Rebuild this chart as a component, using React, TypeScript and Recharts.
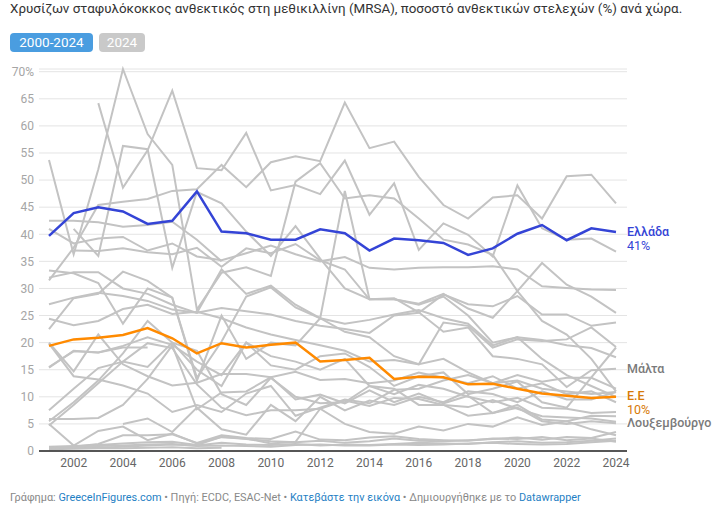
import React from "react";
import {
  LineChart,
  Line,
  XAxis,
  YAxis,
  CartesianGrid,
  LabelList,
} from "recharts";

const years = [
  2001, 2002, 2003, 2004, 2005, 2006, 2007, 2008, 2009, 2010, 2011, 2012,
  2013, 2014, 2015, 2016, 2017, 2018, 2019, 2020, 2021, 2022, 2023, 2024,
];
const xTicks = [2002, 2004, 2006, 2008, 2010, 2012, 2014, 2016, 2018, 2020, 2022, 2024];
const yTicks = [0, 5, 10, 15, 20, 25, 30, 35, 40, 45, 50, 55, 60, 65, 70];

const greece = [39.7, 43.9, 45.0, 44.2, 41.9, 42.5, 47.9, 40.5, 40.2, 39.0, 39.0, 40.9, 40.2, 37.0, 39.2, 38.9, 38.4, 36.2, 37.4, 40.1, 41.7, 38.9, 41.1, 40.4];
const eu = [19.4, 20.6, 20.9, 21.4, 22.7, 20.8, 18.0, 19.9, 19.1, 19.6, 20.0, 16.5, 16.8, 17.2, 13.3, 13.7, 13.6, 12.3, 12.4, 11.5, 10.6, 10.2, 9.8, 10.0];
const malta = [null, 41.0, 36.0, 56.3, 55.7, 33.8, 47.8, 45.7, 40.5, 36.0, 41.5, 35.5, 30.0, 28.0, 28.2, 25.6, 22.0, 22.8, 17.5, 17.0, 16.0, 11.8, 14.9, 15.2];
const luxembourg = [15.5, 18.4, 18.2, 19.4, 21.0, 19.6, 16.5, 14.0, 20.0, 17.5, 16.5, 15.0, 17.0, 12.0, 11.5, 8.5, 8.5, 6.5, 7.0, 8.0, 5.5, 5.0, 5.5, 5.1];

const romania = [31.5, 37.5, 45.4, 46.0, 46.5, 48.0, 48.3, 52.8, 48.7, 53.3, 54.4, 53.5, 64.3, 55.9, 57.1, 50.6, 45.4, 42.9, 46.8, 47.2, 42.9, 50.7, 51.0, 45.7];
const cyprus = [null, null, 64.2, 48.6, 55.5, 66.5, 52.2, 51.8, 58.7, 48.1, 49.1, 47.4, 53.6, 43.6, 49.4, 37.1, 42.0, 39.9, 35.9, 49.0, 41.1, 39.0, 39.2, 36.8];
const portugal = [53.7, 36.3, 52.0, 70.5, 58.5, 52.8, 26.1, 32.9, 33.9, 32.3, 49.7, 53.1, 46.6, 47.2, 46.6, 42.9, 39.0, 38.1, 36.2, 29.5, 24.0, 21.5, 17.0, 11.0];
const italy = [41.0, 38.3, 39.2, 39.5, 37.0, 38.3, 35.9, 35.2, 36.5, 37.9, 36.3, 35.0, 35.8, 33.8, 33.5, 33.8, 33.9, 33.9, 34.1, 33.5, 30.4, 30.1, 29.8, 29.7];
const ireland = [42.5, 42.5, 42.2, 41.4, 41.7, 42.3, 39.0, 35.0, null, null, null, null, null, null, null, null, null, null, null, null, null, null, null, null];
const spain = [null, 37.0, 36.9, 37.4, 36.7, 36.3, 37.5, 34.0, 37.4, 36.5, 38.2, 35.2, 33.5, 28.0, 28.0, 27.0, 28.5, 25.0, 20.0, 21.0, 20.5, 19.5, 19.0, 17.3];
const croatia = [32.0, 33.0, 33.0, 30.0, 29.0, 27.0, 25.5, 33.5, 29.0, 30.5, 27.0, 24.5, 48.0, 28.0, 28.0, 27.2, 29.0, 26.3, 24.6, 29.5, 34.7, 30.7, 28.5, 25.5];
const france = [33.3, 32.8, 31.0, 23.5, 30.0, 28.3, 13.0, 25.0, 17.0, 20.0, 19.5, 24.5, 22.0, 21.0, 17.5, 16.0, 17.0, 14.5, 12.5, 13.0, 11.5, 11.0, 10.5, 10.9];
const belgium = [27.1, 28.3, 29.2, 28.6, 27.7, 26.1, 25.5, 26.4, 25.8, 25.2, 24.0, 23.1, 22.5, 21.8, 25.0, 25.5, 28.9, 27.1, 26.7, 28.6, 25.2, 25.2, 23.1, 23.7];
const hungary = [24.4, 23.2, 24.0, 26.2, 27.0, 25.3, 25.7, 24.5, 22.8, 21.5, 20.5, 19.5, 18.5, 16.5, 16.8, 16.0, 23.7, 23.1, 19.1, 20.6, 20.3, 20.6, 22.8, 19.2];
const poland = [22.5, 28.2, 29.0, 33.1, 31.4, 28.3, 13.5, 20.2, 28.5, 30.2, 26.5, 24.5, 23.5, 24.2, 25.2, 26.0, 24.5, 23.5, 19.5, 21.0, 17.0, 14.0, 12.0, 10.0];
const germany = [19.8, 13.8, 13.2, 12.1, 10.6, 7.2, 8.5, 7.2, 10.6, 12.0, 6.5, 8.0, 9.5, 8.8, 11.3, 11.5, 13.0, 14.0, 12.5, 14.0, 12.8, 13.5, 13.5, 11.5];
const uk = [15.4, 18.5, 18.2, 19.1, 19.1, null, null, null, null, null, null, null, null, null, null, null, null, null, null, null, null, null, null, null];
const slovakia = [20.0, 14.7, 21.5, 16.0, 13.8, 12.1, 12.6, 14.2, 14.2, 13.6, 14.6, 13.1, 13.3, 12.5, 13.0, 14.5, 13.5, 12.5, 13.8, 11.5, 12.5, 10.5, 11.0, 9.0];
const bulgaria = [5.5, 9.0, 13.0, 18.0, 24.0, 20.0, 18.5, 10.5, 8.5, 13.5, 10.0, 8.8, 9.0, 12.0, 10.5, 12.2, 11.5, 10.0, 9.0, 9.8, 8.0, 7.8, 7.0, 7.2];
const czechia = [4.7, 8.5, 12.5, 16.5, 15.5, 20.0, 15.0, 12.0, 20.0, 15.8, 15.0, 17.5, 18.0, 15.5, 12.0, 13.8, 14.5, 10.5, 11.5, 12.8, 9.0, 8.0, 13.6, 19.1];
const austria = [5.9, 5.9, 6.1, 8.5, 13.3, 19.5, 7.7, 10.8, 11.0, 13.6, 9.5, 10.4, 8.8, 11.2, 9.0, 10.6, 8.8, 10.2, 7.0, 8.5, 5.8, 5.5, 6.5, 6.4];
const slovenia = [7.5, 11.5, 15.3, 16.5, 19.9, 19.0, 12.3, 8.0, 6.6, 7.5, 7.5, 7.8, 9.3, 8.3, 9.8, 9.6, 8.5, 8.1, 9.4, 7.8, 6.4, 6.2, 6.0, 5.4];
const latvia = [5.0, 1.0, 3.7, 4.5, 2.0, 3.2, 1.4, 2.6, 2.3, 1.4, 1.7, 7.8, 5.0, 3.5, 3.2, 4.5, 3.8, 5.0, 4.5, 6.2, 4.8, 5.5, 4.0, 2.9];
const estonia = [null, 0.8, 1.3, 2.9, 2.9, 3.1, 1.5, 2.9, 2.4, 2.2, 3.6, 2.1, 2.0, 2.5, 2.7, 2.2, 2.0, 1.9, 2.3, 2.2, 2.6, 2.0, 2.3, 1.7];
const denmark = [0.5, 0.6, 0.6, 0.8, 1.0, 1.2, 1.0, 1.5, 1.2, 1.1, 1.3, 1.0, 1.2, 1.1, 1.3, 1.5, 1.4, 1.3, 1.6, 1.8, 1.5, 1.6, 1.9, 2.3];
const sweden = [0.8, 0.9, 1.1, 1.4, 1.6, 1.7, 1.1, 2.6, 2.2, 1.8, 1.6, 1.9, 1.5, 1.8, 2.3, 1.9, 1.8, 2.0, 2.2, 2.5, 2.1, 2.6, 2.4, 3.5];
const iceland = [0.3, 0.4, 0.5, 0.5, 0.6, 0.7, 0.5, 0.6, null, null, null, null, null, null, null, null, null, null, null, null, null, null, null, null];
const netherlands = [0.6, 0.7, 0.9, 1.0, 1.2, 1.3, 0.9, 1.0, 0.9, 0.8, 1.1, 1.2, 1.0, 1.0, 1.2, 1.1, 1.2, 1.4, 1.5, 1.3, 1.2, 1.3, 1.6, 1.9];
const lithuania = [null, null, null, 5.0, 6.0, 3.5, 8.0, 4.0, 3.0, 8.5, 5.5, 10.0, 7.5, 9.3, 8.5, 10.0, 9.0, 11.0, 10.5, 9.0, 11.0, 9.5, 9.5, 10.9];

const greySeries = [
  { key: "romania", values: romania },
  { key: "cyprus", values: cyprus },
  { key: "portugal", values: portugal },
  { key: "italy", values: italy },
  { key: "ireland", values: ireland },
  { key: "spain", values: spain },
  { key: "croatia", values: croatia },
  { key: "france", values: france },
  { key: "belgium", values: belgium },
  { key: "hungary", values: hungary },
  { key: "poland", values: poland },
  { key: "germany", values: germany },
  { key: "uk", values: uk },
  { key: "slovakia", values: slovakia },
  { key: "bulgaria", values: bulgaria },
  { key: "czechia", values: czechia },
  { key: "austria", values: austria },
  { key: "slovenia", values: slovenia },
  { key: "latvia", values: latvia },
  { key: "estonia", values: estonia },
  { key: "denmark", values: denmark },
  { key: "sweden", values: sweden },
  { key: "iceland", values: iceland },
  { key: "netherlands", values: netherlands },
  { key: "lithuania", values: lithuania },
  { key: "malta", values: malta },
  { key: "luxembourg", values: luxembourg },
];

const data = years.map((year, i) => {
  const row: any = { year, greece: greece[i], eu: eu[i] };
  greySeries.forEach((s) => {
    row[s.key] = s.values[i];
  });
  return row;
});

const FONT = "Roboto, 'Noto Sans', Arial, sans-serif";
const BLUE = "#3444d6";
const ORANGE = "#ff8a00";
const LAST = years.length - 1;

// label at the end of a line, one or two rows
const endLabel =
  (name: string, pct: string | null, color: string, dy = 0) =>
  (props: any) => {
    const { x, y, index } = props;
    if (index !== LAST || x == null || y == null) return null;
    return (
      <g>
        <text x={x + 11} y={y + dy + 4} fill={color} fontSize={12.5} fontWeight={500} fontFamily={FONT}>
          {name}
        </text>
        {pct && (
          <text x={x + 11} y={y + dy + 18} fill={color} fontSize={12.5} fontFamily={FONT}>
            {pct}
          </text>
        )}
      </g>
    );
  };

const Button = ({ label, bg, width }) => (
  <div
    style={{
      display: "inline-block",
      background: bg,
      color: "#fff",
      fontSize: 13.5,
      lineHeight: "19px",
      height: 19,
      width,
      textAlign: "center",
      borderRadius: 4,
      marginRight: 6,
    }}
  >
    {label}
  </div>
);

export default function App() {
  return (
    <div
      style={{
        position: "absolute",
        left: 0,
        top: 0,
        width: 716,
        height: 515,
        background: "#fff",
        fontFamily: FONT,
      }}
    >
      <div style={{ position: "absolute", left: 10, top: 0, fontSize: 13.4, color: "#333", lineHeight: "18px", whiteSpace: "nowrap" }}>
        Χρυσίζων σταφυλόκοκκος ανθεκτικός στη μεθικιλλίνη (MRSA), ποσοστό ανθεκτικών στελεχών (%) ανά χώρα.
      </div>
      <div style={{ position: "absolute", left: 10, top: 32 }}>
        <Button label="2000-2024" bg="#4a9de0" width={83} />
        <Button label="2024" bg="#c9c9c9" width={46} />
      </div>

      <div style={{ position: "absolute", left: 0, top: 0 }}>
        <LineChart
          width={716}
          height={515}
          data={data}
          margin={{ top: 69, right: 89, left: 0, bottom: 34 }}
        >
          <CartesianGrid horizontal vertical={false} stroke="#e4e4e4" />
          <XAxis
            dataKey="year"
            type="number"
            domain={[2001, 2024]}
            ticks={xTicks}
            padding={{ left: 10, right: 11 }}
            height={30}
            tickSize={0}
            tickMargin={7}
            tickLine={false}
            axisLine={{ stroke: "#222", strokeWidth: 1.5 }}
            tick={{ fill: "#666", fontSize: 12, fontFamily: FONT }}
          />
          <YAxis
            type="number"
            domain={[0, 70]}
            ticks={yTicks}
            width={39}
            tickSize={0}
            tickMargin={5}
            axisLine={false}
            tickLine={false}
            tickFormatter={(v) => (v === 70 ? "70%" : String(v))}
            tick={{ fill: "#a5a5a5", fontSize: 12, fontFamily: FONT }}
          />
          {greySeries.map((s) => (
            <Line
              key={s.key}
              dataKey={s.key}
              stroke="#c3c3c3"
              strokeWidth={2}
              dot={false}
              isAnimationActive={false}
            >
              {s.key === "malta" && <LabelList content={endLabel("Μάλτα", null, "#7a7a7a")} />}
              {s.key === "luxembourg" && <LabelList content={endLabel("Λουξεμβούργο", null, "#7a7a7a")} />}
            </Line>
          ))}
          <Line dataKey="eu" stroke={ORANGE} strokeWidth={2.5} dot={false} isAnimationActive={false}>
            <LabelList content={endLabel("Ε.Ε", "10%", "#d77a08", -1)} />
          </Line>
          <Line dataKey="greece" stroke={BLUE} strokeWidth={2.5} dot={false} isAnimationActive={false}>
            <LabelList content={endLabel("Ελλάδα", "41%", BLUE)} />
          </Line>
        </LineChart>
      </div>

      <div style={{ position: "absolute", left: 10, top: 491, fontSize: 10.9, color: "#888", whiteSpace: "nowrap" }}>
        Γράφημα: <span style={{ color: "#1f7fc4" }}>GreeceInFigures.com</span> • Πηγή: ECDC, ESAC-Net •{" "}
        <span style={{ color: "#1f7fc4" }}>Κατεβάστε την εικόνα</span> • Δημιουργήθηκε με το{" "}
        <span style={{ color: "#1f7fc4" }}>Datawrapper</span>
      </div>
    </div>
  );
}
